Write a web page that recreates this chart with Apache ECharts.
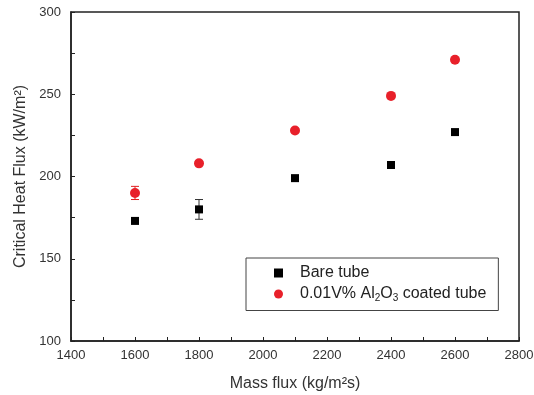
<!DOCTYPE html>
<html><head><meta charset="utf-8">
<script src="https://cdn.jsdelivr.net/npm/echarts@6/dist/echarts.min.js"></script>
<style>html,body{margin:0;padding:0;background:#fff}#c{width:534px;height:395px}</style>
</head><body><div id="c"></div>
<script>
const massFlux = [1600, 1800, 2100, 2400, 2600];
const bareTube = [173, 180, 199, 207, 227];
const coatedTube = [190, 208, 228, 249, 271];
const bareErr = [0, 6, 0, 0, 0];
const coatedErr = [4, 0, 0, 0, 0];
const xTickLabels = [1400, 1600, 1800, 2000, 2200, 2400, 2600, 2800];
const yTickLabels = [100, 150, 200, 250, 300];

const chart = echarts.init(document.getElementById('c'));
const font = 'Arial, "Liberation Sans", sans-serif';
function errSeries(vals, errs, color) {
  const d = massFlux.map((x, i) => [x, vals[i] - errs[i], vals[i] + errs[i]]).filter((r, i) => errs[i] > 0);
  return {
    type: 'custom', silent: true, z: 1,
    renderItem: (params, api) => {
      const lo = api.coord([api.value(0), api.value(1)]);
      const hi = api.coord([api.value(0), api.value(2)]);
      const w = 4;
      const st = { stroke: color, lineWidth: 1 };
      return { type: 'group', children: [
        { type: 'line', shape: { x1: lo[0], y1: lo[1], x2: hi[0], y2: hi[1] }, style: st },
        { type: 'line', shape: { x1: lo[0] - w, y1: lo[1], x2: lo[0] + w, y2: lo[1] }, style: st },
        { type: 'line', shape: { x1: hi[0] - w, y1: hi[1], x2: hi[0] + w, y2: hi[1] }, style: st }
      ]};
    },
    encode: { x: 0, y: [1, 2] },
    data: d
  };
}
const axisCommon = {
  axisLine: { show: true, onZero: false, lineStyle: { color: '#222', width: 1.5 } },
  axisTick: { show: true, inside: true, length: 4, lineStyle: { color: '#222', width: 1 } },
  splitLine: { show: false },
  nameTextStyle: { color: '#333', fontSize: 16, fontFamily: font }
};
const lbl = { color: '#333', fontSize: 13, fontFamily: font };
chart.setOption({
  animation: false,
  grid: { left: 71, right: 15, top: 12, bottom: 54, show: true, borderColor: '#222', borderWidth: 1.5,
    containLabel: false, outerBoundsMode: 'none' },
  xAxis: Object.assign({}, axisCommon, {
    type: 'value', min: 1400, max: 2800, interval: 100,
    name: 'Mass flux (kg/m²s)', nameLocation: 'middle', nameGap: 35,
    axisLabel: Object.assign({}, lbl, { margin: 8, showMinLabel: true, showMaxLabel: true,
      formatter: v => xTickLabels.indexOf(v) >= 0 ? String(v) : '' })
  }),
  yAxis: Object.assign({}, axisCommon, {
    type: 'value', min: 100, max: 300, interval: 25,
    name: 'Critical Heat Flux (kW/m²)', nameLocation: 'middle', nameGap: 33,
    axisLabel: Object.assign({}, lbl, { margin: 10,
      formatter: v => yTickLabels.indexOf(v) >= 0 ? String(v) : '' })
  }),
  legend: {
    show: true, orient: 'vertical', left: 246, top: 258,
    padding: [7, 12, 7, 28], itemGap: 5, itemWidth: 9, itemHeight: 9,
    borderColor: '#444', borderWidth: 1, backgroundColor: '#fff',
    data: ['Bare tube', 'coated'],
    formatter: n => n === 'coated' ? '{n|0.01V% Al}{s|2}{n|O}{s|3}{n| coated tube}' : '{n|Bare tube}',
    textStyle: {
      color: '#222', fontFamily: font, fontSize: 16, padding: [0, 0, 0, 12],
      rich: {
        n: { fontSize: 16, fontFamily: font, color: '#222' },
        s: { fontSize: 10, fontFamily: font, color: '#222', verticalAlign: 'bottom', padding: [9, 0, 0, 0] }
      }
    }
  },
  series: [
    errSeries(bareTube, bareErr, '#333'),
    errSeries(coatedTube, coatedErr, '#e02020'),
    { name: 'Bare tube', type: 'scatter', symbol: 'rect', symbolSize: 8, z: 3,
      itemStyle: { color: '#000', opacity: 1 }, data: massFlux.map((x, i) => [x, bareTube[i]]) },
    { name: 'coated', type: 'scatter', symbol: 'circle', symbolSize: 10, z: 3,
      itemStyle: { color: '#e8202a', opacity: 1 }, data: massFlux.map((x, i) => [x, coatedTube[i]]) }
  ]
});
</script></body></html>
